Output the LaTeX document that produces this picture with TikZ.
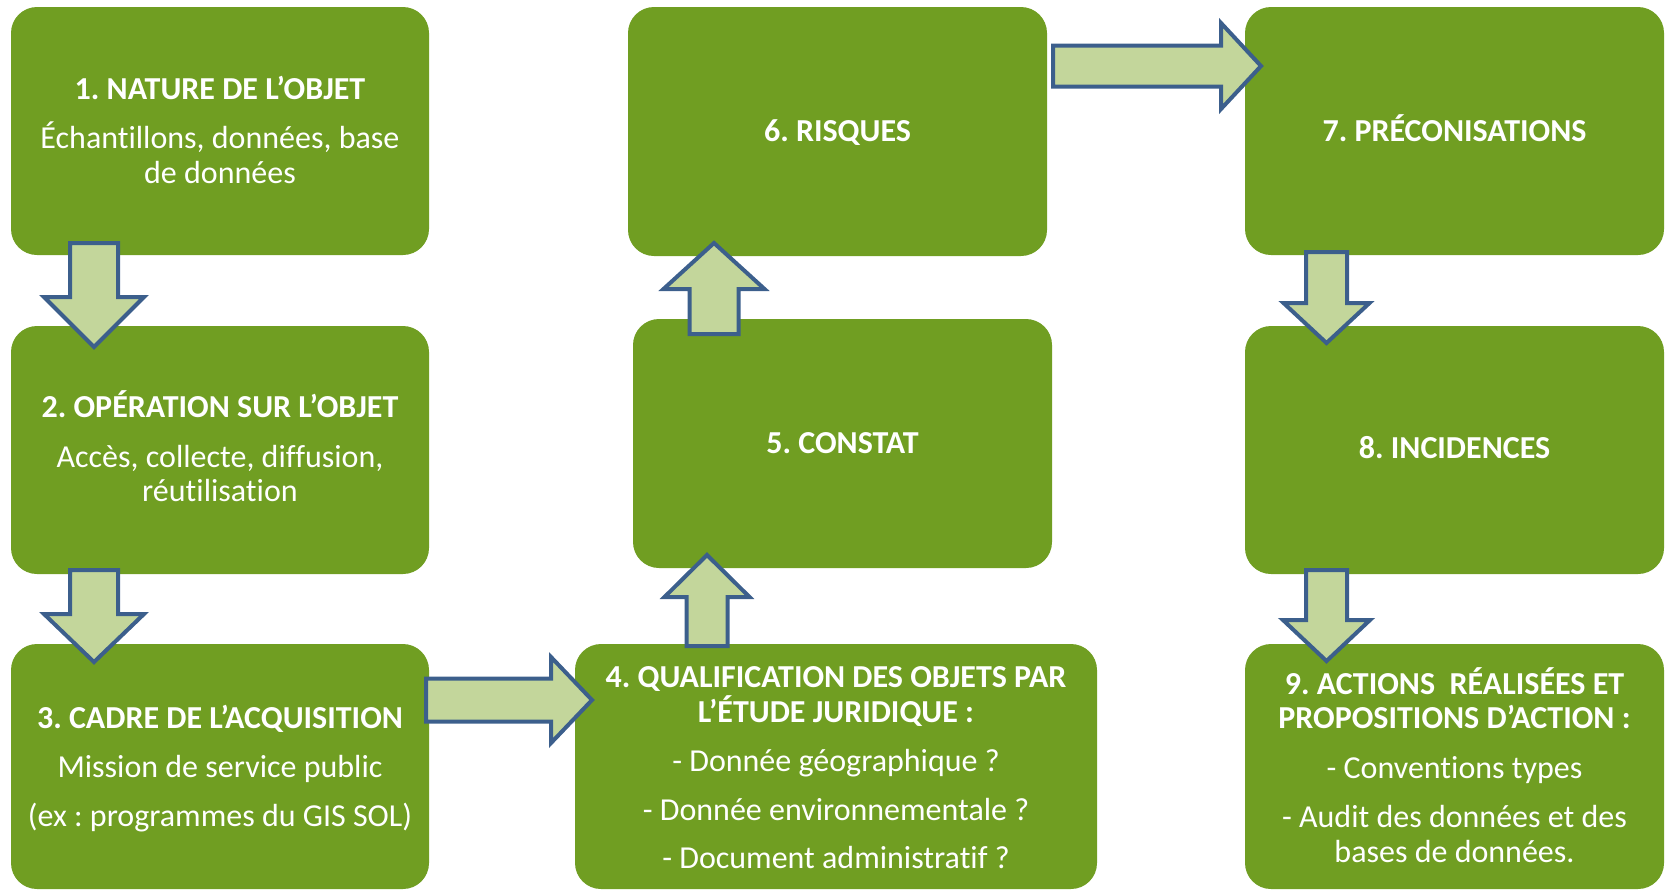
\documentclass[tikz,border=0pt]{standalone}
\usepackage{fontspec}
\setmainfont{Carlito}[Ligatures=NoCommon]
\frenchspacing
\definecolor{boxgreen}{RGB}{112,158,34}
\definecolor{arrowfill}{RGB}{195,214,155}
\definecolor{arrowline}{RGB}{60,95,140}
\newcommand\vblkarrow[6]{% cx, ystart, yheadbase, ytip, shaft half width, head half width
  \draw[barrow] ({#1-#5},#2) -- ({#1+#5},#2) -- ({#1+#5},#3) -- ({#1+#6},#3) -- (#1,#4) -- ({#1-#6},#3) -- ({#1-#5},#3) -- cycle;}
\newcommand\hblkarrow[6]{% cy, xstart, xheadbase, xtip, shaft half width, head half width
  \draw[barrow] (#2,{#1-#5}) -- (#3,{#1-#5}) -- (#3,{#1-#6}) -- (#4,#1) -- (#3,{#1+#6}) -- (#3,{#1+#5}) -- (#2,{#1+#5}) -- cycle;}
\begin{document}
\begin{tikzpicture}[x=0.5pt,y=-0.5pt,
  gbox/.style={fill=boxgreen, draw=none, rounded corners=13pt, inner sep=0pt},
  ttl/.style={anchor=base, text=white, inner sep=0pt, font=\fontsize{16pt}{19pt}\selectfont\frenchspacing\bfseries},
  txt/.style={anchor=base, text=white, inner sep=0pt, font=\fontsize{16pt}{19pt}\selectfont\frenchspacing},
  barrow/.style={fill=arrowfill, draw=arrowline, line width=2pt, line join=miter}]
\useasboundingbox (0,0) rectangle (1669,891);
% boxes
\node[gbox, minimum width=209pt, minimum height=124pt] (b1) at (220,131) {};
\node[gbox, minimum width=209pt, minimum height=124pt] (b2) at (220,450) {};
\node[gbox, minimum width=209pt, minimum height=122.5pt] (b3) at (220,766.5) {};
\node[gbox, minimum width=261pt, minimum height=122.5pt] (b4) at (836,766.5) {};
\node[gbox, minimum width=209.5pt, minimum height=124.5pt] (b5) at (842.5,443.5) {};
\node[gbox, minimum width=209.5pt, minimum height=124.5pt] (b6) at (837.5,131.5) {};
\node[gbox, minimum width=209.5pt, minimum height=124pt] (b7) at (1454.5,131) {};
\node[gbox, minimum width=209.5pt, minimum height=124pt] (b8) at (1454.5,450) {};
\node[gbox, minimum width=209.5pt, minimum height=122.5pt] (b9) at (1454.5,766.5) {};
% texts
\node[ttl] (t1) at (220,99) {1. NATURE DE L’OBJET};
\node[txt] (t1a) at (220,148) {Échantillons, données, base};
\node[txt] (t1b) at (220,183) {de données};
\node[ttl] (t2) at (220,417) {2. OPÉRATION SUR L’OBJET};
\node[txt] (t2a) at (220,467) {Accès, collecte, diffusion,};
\node[txt] (t2b) at (220,501) {réutilisation};
\node[ttl] (t3) at (220,728) {3. CADRE DE L’ACQUISITION};
\node[txt] (t3a) at (220,777) {Mission de service public};
\node[txt] (t3b) at (220,826) {(ex : programmes du GIS SOL)};
\node[ttl] (t4) at (836,687) {4. QUALIFICATION DES OBJETS PAR};
\node[ttl] (t4x) at (836,722) {L’ÉTUDE JURIDIQUE :};
\node[txt] (t4a) at (836,771) {- Donnée géographique ?};
\node[txt] (t4b) at (836,820) {- Donnée environnementale ?};
\node[txt] (t4c) at (836,868) {- Document administratif ?};
\node[ttl] (t5) at (842.5,453) {5. CONSTAT};
\node[ttl] (t6) at (837.5,141) {6. RISQUES};
\node[ttl] (t7) at (1454.5,141) {7. PRÉCONISATIONS};
\node[ttl] (t8) at (1454.5,458) {8. INCIDENCES};
\node[ttl] (t9) at (1454.5,694) {9. ACTIONS~ RÉALISÉES ET};
\node[ttl] (t9x) at (1454.5,728) {PROPOSITIONS D’ACTION :};
\node[txt] (t9a) at (1454.5,778) {- Conventions types};
\node[txt] (t9b) at (1454.5,827) {- Audit des données et des};
\node[txt] (t9c) at (1454.5,862) {bases de données.};
% block arrows
\vblkarrow{94}{243}{297}{347}{24}{50}
\vblkarrow{94}{570}{614}{662}{24}{50}
\hblkarrow{700}{426}{551}{592}{21.5}{43}
\vblkarrow{707}{646}{597}{555}{20.5}{42.5}
\vblkarrow{714}{334}{289}{243}{24.5}{50.5}
\hblkarrow{66}{1053}{1221}{1261}{20.5}{43}
\vblkarrow{1326.5}{252}{303}{343}{20.5}{43}
\vblkarrow{1326.5}{570}{620}{661}{20.5}{43.5}
\end{tikzpicture}
\end{document}
